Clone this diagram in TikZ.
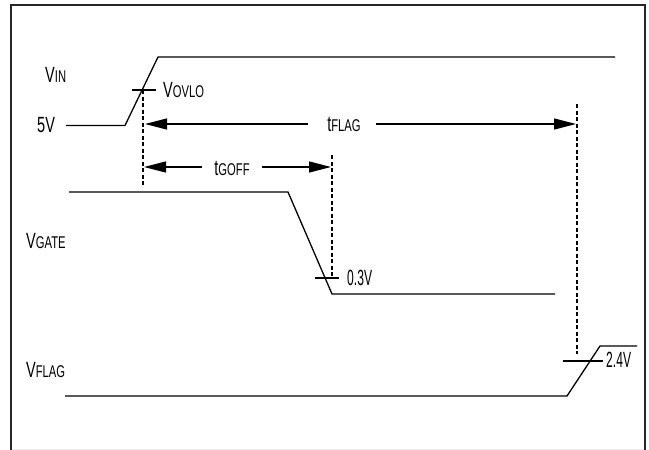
\documentclass[tikz,border=0pt]{standalone}
\usepackage{fontspec}
\setmainfont{Liberation Sans}[FakeStretch=0.66]
\newfontfamily\numfont{Liberation Sans}[FakeStretch=0.55]
\usetikzlibrary{arrows.meta}
\newcommand{\sbs}[1]{{\fontsize{17}{17}\selectfont #1}}
\begin{document}
\begin{tikzpicture}[x=1pt,y=-1pt,
  sig/.style={line width=1.3pt, color=black, line join=miter},
  tickln/.style={line width=1.3pt, color=black},
  dashln/.style={line width=1.3pt, dash pattern=on 4pt off 2.5pt, color=black},
  arr/.style={line width=1.3pt, color=black, -{Triangle[length=22pt,width=11pt]}},
  lbl/.style={inner sep=0pt, anchor=base west, font=\fontsize{22}{22}\selectfont},
  lblc/.style={inner sep=0pt, anchor=base, font=\fontsize{22}{22}\selectfont},
  numlbl/.style={inner sep=0pt, anchor=base west, font=\numfont\fontsize{22}{22}\selectfont},
  frameln/.style={line width=2pt, color=black!85}]
\useasboundingbox (0,0) rectangle (649,450);
% frame
\draw[line width=1pt, color=black!8] (12,449.5) -- (645,449.5);
\draw[frameln] (11,452) -- (11,5) -- (645,5) -- (645,452);
% VIN signal
\coordinate (vin0) at (66,125.5);
\coordinate (vin1) at (125,125.5);
\coordinate (vin2) at (158,57);
\coordinate (vin3) at (615,57);
\draw[sig] (vin0) -- (vin1) -- (vin2) -- (vin3);
\coordinate (ovL) at (132,90);
\coordinate (ovR) at (156,90);
\draw[tickln] (ovL) -- (ovR);
% VGATE signal
\coordinate (vg0) at (69,192);
\coordinate (vg1) at (288,192);
\coordinate (vg2) at (332,294);
\coordinate (vg3) at (555,294);
\draw[sig] (vg0) -- (vg1) -- (vg2) -- (vg3);
\coordinate (gtL) at (315,278);
\coordinate (gtR) at (339,278);
\draw[tickln] (gtL) -- (gtR);
% VFLAG signal
\coordinate (vf0) at (65,396);
\coordinate (vf1) at (567,396);
\coordinate (vf2) at (600,346);
\coordinate (vf3) at (637,346);
\draw[sig] (vf0) -- (vf1) -- (vf2) -- (vf3);
\coordinate (ftL) at (563,361);
\coordinate (ftR) at (603,361);
\draw[tickln] (ftL) -- (ftR);
% dashed markers
\coordinate (d1t) at (143,90);
\coordinate (d1b) at (143,186);
\coordinate (d2t) at (332,155);
\coordinate (d2b) at (332,276);
\coordinate (d3t) at (577,104);
\coordinate (d3b) at (577,354);
\draw[dashln] (d1t) -- (d1b);
\draw[dashln] (d2t) -- (d2b);
\draw[dashln] (d3t) -- (d3b);
% labels
\node[lbl] (lvin) at (45,82) {V\sbs{IN}};
\node[lbl] (l5v) at (37,132) {5V};
\node[lbl] (lovlo) at (163,97) {V\sbs{OVLO}};
\node[lbl] (lgate) at (26,248) {V\sbs{GATE}};
\node[lbl] (lflag) at (26,377) {V\sbs{FLAG}};
\node[numlbl] (l03) at (347,285) {0.3V};
\node[numlbl] (l24) at (606,367) {2.4V};
\node[lblc] (ltflag) at (344,131) {t\sbs{FLAG}};
\node[lblc] (ltgoff) at (232,175) {t\sbs{GOFF}};
% timing arrows
\coordinate (fa1) at (308,124);
\coordinate (fa2) at (145,124);
\coordinate (fb1) at (376,124);
\coordinate (fb2) at (576,124);
\draw[arr] (fa1) -- (fa2);
\draw[arr] (fb1) -- (fb2);
\coordinate (ga1) at (202,167);
\coordinate (ga2) at (144,167);
\coordinate (gb1) at (262,167);
\coordinate (gb2) at (331,167);
\draw[arr] (ga1) -- (ga2);
\draw[arr] (gb1) -- (gb2);
\end{tikzpicture}
\end{document}
